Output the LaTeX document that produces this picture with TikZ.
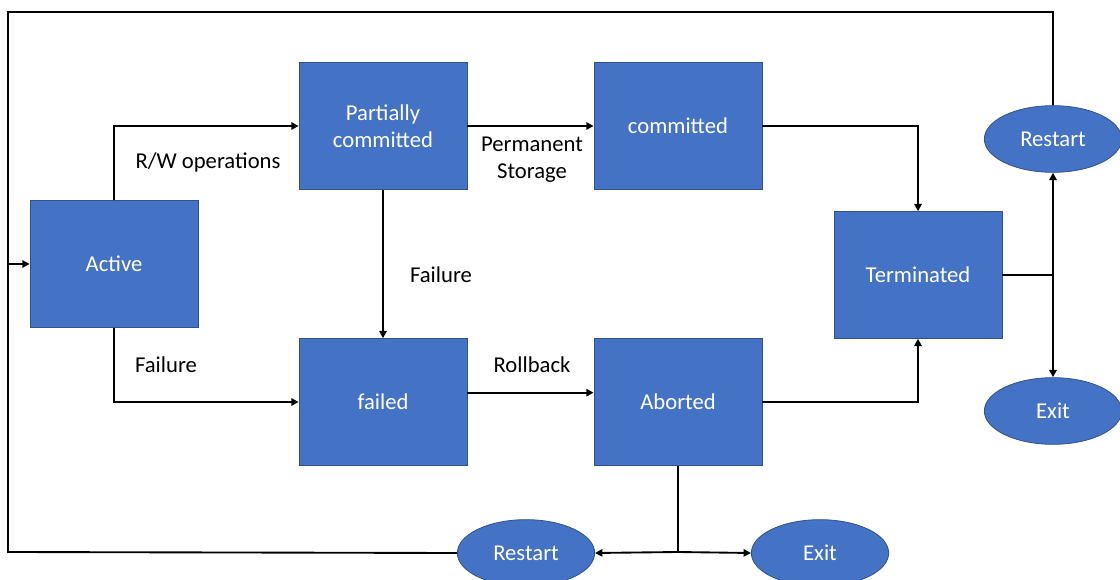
\documentclass[tikz,border=0pt]{standalone}
\usepackage{fontspec}
\setmainfont{Carlito}
\definecolor{stateblue}{HTML}{4472C4}
\definecolor{stateedge}{HTML}{2F528F}
\usetikzlibrary{positioning,calc,shapes.geometric,arrows.meta}

\begin{document}
\begin{tikzpicture}[
    x=0.75pt,y=-0.75pt,
    state/.style={rectangle,draw=stateedge,fill=stateblue,text=white,minimum width=126pt,
      minimum height=95pt,align=center,font=\fontsize{17}{20}\selectfont,line width=0.6pt},
    finish/.style={ellipse,draw=stateedge,fill=stateblue,text=white,minimum width=103pt,
      minimum height=50pt,inner sep=0pt,font=\fontsize{17}{20}\selectfont,line width=0.6pt},
    lbl/.style={align=center,font=\fontsize{17}{20}\selectfont},
    link/.style={-,line width=1.4pt,black},
    arr/.style={-{Triangle[length=5.5pt,width=5.5pt]},line width=1.4pt,black}
  ]
    \useasboundingbox (0,0) rectangle (1120,580);
    % States
    \node[state] (active) at (114,264) {Active};
    \node[state] (partial) at (383,126) {Partially\\committed};
    \node[state] (committed) at (678,126) {committed};
    \node[state] (failed) at (383,402) {failed};
    \node[state] (aborted) at (678,402) {Aborted};
    \node[state] (terminated) at (918,275) {Terminated};
    % End points
    \node[finish] (rrestart) at (1053,139) {Restart};
    \node[finish] (rexit) at (1053,411) {Exit};
    \node[finish] (brestart) at (526,553) {Restart};
    \node[finish] (bexit) at (820,553) {Exit};
    % Transitions
    \draw[arr] (active.north) |- (partial.west);
    \draw[arr] (active.south) |- (failed.west);
    \draw[arr] (partial.east) -- (committed.west);
    \draw[arr] (partial.south) -- (failed.north);
    \draw[arr] ([yshift=7pt]failed.east) -- ([yshift=7pt]aborted.west);
    \draw[arr] (committed.east) -| (terminated.north);
    \draw[arr] (aborted.east) -| (terminated.south);
    % Branches to restart / exit
    \coordinate (tj) at (1053,275);
    \draw[link] (terminated.east) -- (tj);
    \draw[arr] (tj) -- (rrestart.south);
    \draw[arr] (tj) -- (rexit.north);
    \coordinate (bj) at (678,552);
    \draw[link] (aborted.south) -- (bj);
    \draw[arr] (bj) -- (brestart.east);
    \draw[arr] (bj) -- (bexit.west);
    % Restart loop back to Active
    \coordinate (lb) at (8,552);
    \coordinate (lt) at (8,12);
    \coordinate (rt) at (1053,12);
    \coordinate (la) at (8,264);
    \draw[link] (brestart.west) -- (lb) -- (lt) -- (rt) -- (rrestart.north);
    \draw[arr] (la) -- (active.west);
    % Labels
    \node[lbl] (rwlbl) at (208,162) {R/W operations};
    \node[lbl] (faillbl) at (166,365) {Failure};
    \node[lbl] (permlbl) at (532,160) {Permanent\\Storage};
    \node[lbl] (fail2lbl) at (441,275) {Failure};
    \node[lbl] (rolllbl) at (532,365) {Rollback};
  \end{tikzpicture}
\end{document}
